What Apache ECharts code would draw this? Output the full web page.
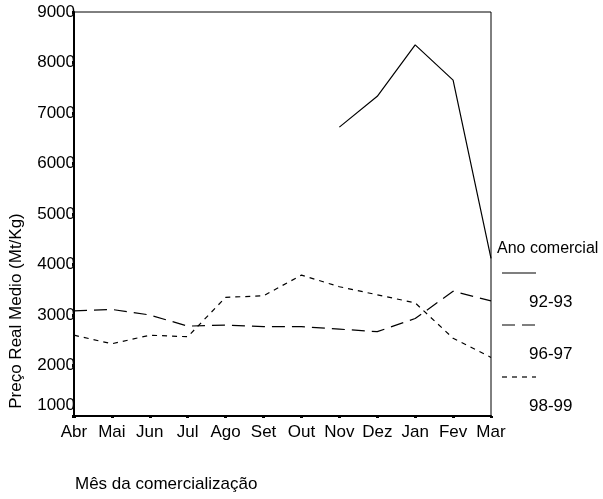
<!DOCTYPE html>
<html>
<head>
<meta charset="utf-8">
<script src="https://cdn.jsdelivr.net/npm/echarts@6/dist/echarts.min.js"></script>
<style>
  html, body { margin: 0; padding: 0; background: #fff; }
  #chart { width: 603px; height: 499px; }
</style>
</head>
<body>
<div id="chart"></div>
<script>
var meses = ['Abr', 'Mai', 'Jun', 'Jul', 'Ago', 'Set', 'Out', 'Nov', 'Dez', 'Jan', 'Fev', 'Mar'];
var anos = ['92-93', '96-97', '98-99'];
var preco9293 = [null, null, null, null, null, null, null, 6720, 7330, 8350, 7650, 4120];
var preco9697 = [3080, 3110, 3000, 2780, 2800, 2770, 2770, 2720, 2670, 2930, 3470, 3280];
var preco9899 = [2600, 2430, 2600, 2570, 3350, 3380, 3790, 3560, 3400, 3240, 2540, 2160];

var fonte = '"Liberation Sans", Arial, sans-serif';
var tracos = ['solid', [13, 7], [5, 5]];

var myChart = echarts.init(document.getElementById('chart'));

function serie(nome, dados, tipo) {
	return {
		name : nome,
		type : 'line',
		data : dados,
		showSymbol : false,
		connectNulls : false,
		lineStyle : { color : '#000', width : 1.2, type : tipo },
		emphasis : { disabled : true }
	};
}

// legenda desenhada a mao (amostra da linha por cima do texto)
var legenda = [{
	type : 'text', left : 497, top : 241,
	style : { text : 'Ano comercial', font : '16px ' + fonte, fill : '#000' }
}];
for (var i = 0; i < anos.length; i++) {
	var y0 = 273 + i * 52;
	legenda.push({
		type : 'line',
		shape : { x1 : 502, y1 : y0, x2 : 536, y2 : y0 },
		style : { stroke : '#000', lineWidth : 1.2, lineDash : tracos[i] == 'solid' ? null : tracos[i] }
	});
	legenda.push({
		type : 'text', left : 529, top : y0 + 21,
		style : { text : anos[i], font : '17px ' + fonte, fill : '#000' }
	});
}
legenda.push({
	type : 'text', left : 8, top : 311, rotation : Math.PI / 2,
	style : { text : 'Preço Real Medio (Mt/Kg)', font : '17px ' + fonte, fill : '#000', align : 'center', verticalAlign : 'middle' },
	x : 16, y : 311, left : null, top : null
});
legenda.push({
	type : 'text', left : 75, top : 476,
	style : { text : 'Mês da comercialização', font : '17px ' + fonte, fill : '#000' }
});

myChart.setOption({
	animation : false,
	grid : {
		left : 74, right : 112, top : 12, bottom : 83,
		show : true, borderColor : '#000', borderWidth : 1
	},
	xAxis : {
		type : 'category',
		data : meses,
		boundaryGap : false,
		axisLine : { lineStyle : { color : '#000', width : 2 } },
		axisTick : { show : true, alignWithLabel : true, length : 2, lineStyle : { color : '#000', width : 3 } },
		axisLabel : { color : '#000', fontSize : 17, fontFamily : fonte, margin : 8, interval : 0 },
		splitLine : { show : false }
	},
	yAxis : {
		type : 'value',
		min : 1000,
		max : 9000,
		interval : 1000,
		axisLine : { show : true, lineStyle : { color : '#000', width : 2 } },
		axisTick : { show : true, length : 2, lineStyle : { color : '#000', width : 3 } },
		axisLabel : {
			color : '#000', fontSize : 17, fontFamily : fonte, margin : -1,
			formatter : function (v) { return v == 1000 ? '{lo|1000}' : String(v); },
			rich : { lo : { fontSize : 17, fontFamily : fonte, color : '#000', padding : [0, 0, 22, 0] } }
		},
		splitLine : { show : false }
	},
	series : [
		serie(anos[0], preco9293, tracos[0]),
		serie(anos[1], preco9697, tracos[1]),
		serie(anos[2], preco9899, tracos[2])
	],
	graphic : legenda
});
</script>
</body>
</html>
